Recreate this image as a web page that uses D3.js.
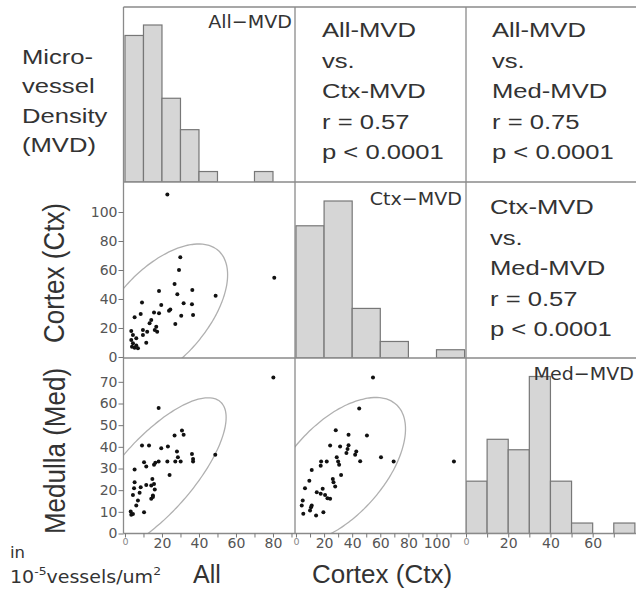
<!DOCTYPE html>
<html>
<head>
<meta charset="utf-8">
<script src="https://cdn.jsdelivr.net/npm/d3@7"></script>
<style>
  body { margin: 0; background: #fff; }
</style>
</head>
<body>
<svg id="chart" width="636" height="590"></svg>
<script>
// histogram bins (lower edges + last upper edge) and counts
var allBins = [0, 10, 20, 30, 40, 50, 60, 70, 80];
var allCounts = [14, 15, 8, 5, 1, 0, 0, 1];
var ctxBins = [0, 20, 40, 60, 80, 100, 120];
var ctxCounts = [16, 19, 6, 2, 0, 1];
var medBins = [0, 10, 20, 30, 40, 50, 60, 70, 80];
var medCounts = [5, 9, 8, 15, 5, 1, 0, 1];

// scatter points [x, y]
var allCtx = [[22.9,112],[29.9,68.8],[29.2,60],[26.8,50.3],[18.4,45.5],[28.3,43.2],[36.4,46.2],[49,42.3],
  [9.2,37.5],[19.6,35.9],[31.7,37],[36.2,36.3],[23.8,31.9],[24.5,32.8],[8.5,29.7],[5.2,27.4],[15.7,30.6],
  [18.4,30.1],[30.4,28.5],[36.8,29],[14.2,25.5],[13.3,23.2],[27.2,22.8],[16.9,20.9],[16.1,18.6],[9.7,18.6],
  [12,17.4],[17.4,17.4],[3.4,17.9],[4.3,15.2],[3.4,11.7],[6.1,12.9],[9.7,15.2],[11.5,9.9],[4.3,9.4],
  [5.2,6.4],[3.8,7.1],[7,6],[6.1,8],[80.7,54.7]];
var allMed = [[18.2,57.9],[30.8,47.5],[26.8,45.2],[31.7,45.6],[9.2,40.6],[13,40.6],[23.2,40.1],[19.6,39.3],
  [28.1,37.8],[36.2,36.7],[36.8,34.4],[48.8,36.4],[28.6,35.2],[30.1,33.2],[27.2,33.2],[22.9,33.2],[18.2,33.2],
  [16.4,32.6],[15.7,31.7],[36.8,33.2],[10.3,32.9],[11.5,30.9],[5.2,29.5],[24.1,27],[14.8,25.2],[5.2,23.7],
  [11.5,22.4],[14.2,22.2],[4.9,20.9],[8.5,21.3],[16.1,20.3],[15.7,22.9],[4.3,17.8],[7.9,18.8],[15.1,17.5],
  [14.2,16],[15.1,16.8],[7,15.2],[6.1,12.9],[10.3,9.8],[3.1,10.1],[3.4,8.6],[4.3,9],[80.2,72]];
var ctxMed = [[54.8,72],[45,57.7],[28.3,47.6],[37.4,45.6],[50.5,45.2],[24.3,40.6],[31.4,40.1],[37.4,40.7],
  [36.7,39],[42.9,37.8],[35.9,37.1],[42.1,36.3],[60.5,35.2],[69.5,33.2],[112.4,33.2],[45.7,33.3],[21.9,33.2],
  [17.9,33.2],[17.6,31.3],[29,35.2],[30,33.2],[30.7,31.7],[11.2,29.3],[32.1,27],[26.2,25.2],[26.7,23.7],
  [27.9,21.7],[9.5,24.4],[6.4,20.9],[19,20.6],[14.8,19],[17.6,18.3],[20.7,17.8],[22.4,16.3],[24.3,16],
  [4.8,15.2],[4.1,12.9],[11.2,12.9],[10,10.6],[5.2,9.1],[14.3,8.3],[19.5,9.8],[10.7,12.1]];

// 95% density ellipses per panel: All-Ctx, All-Med, Ctx-Med
var ellipseMeans = [[19, 28.5], [16, 26.4], [28.5, 29]];
var ellipseSds = [[14.9, 20.2], [15.8, 14.8], [20.2, 13.8]];
var ellipseR = [0.57, 0.75, 0.57];

// tick values
var allTicks = [0, 20, 40, 60, 80];
var allMinor = [10, 30, 50, 70, 90];
var ctxTicks = [0, 20, 40, 60, 80, 100];
var ctxMinor = [10, 30, 50, 70, 90, 110];
var medTicks = [0, 10, 20, 30, 40, 50, 60, 70];
var medXLabels = [0, 20, 40, 60];

// text
var leftTitle = ['Micro-', 'vessel', 'Density', '(MVD)'];
var corrText = [
  ['All-MVD', 'vs.', 'Ctx-MVD', 'r = 0.57', 'p < 0.0001'],
  ['All-MVD', 'vs.', 'Med-MVD', 'r = 0.75', 'p < 0.0001'],
  ['Ctx-MVD', 'vs.', 'Med-MVD', 'r = 0.57', 'p < 0.0001']
];
var diagLabels = ['All\u2212MVD', 'Ctx\u2212MVD', 'Med\u2212MVD'];

var colX = [123.5, 295, 466, 637];
var rowY = [7, 182, 358, 533.5];

var svg = d3.select('#chart');
var big = 'Liberation Sans, Arial, sans-serif';
var small = 'DejaVu Sans, Verdana, sans-serif';
var ink = '#333';
var lineCol = '#8a8a8a';

var xAll = d3.scaleLinear().domain([-0.8, 91.9]).range([colX[0], colX[1]]);
var xCtx = d3.scaleLinear().domain([-0.7, 121]).range([colX[1], colX[2]]);
var xMed = d3.scaleLinear().domain([0, 81]).range([colX[2], colX[3]]);
var yCtx = d3.scaleLinear().domain([-0.7, 120.7]).range([rowY[2], rowY[1]]);
var yMed = d3.scaleLinear().domain([0, 81]).range([rowY[3], rowY[2]]);

var defs = svg.append('defs');
function clip(id, c, r) {
  defs.append('clipPath').attr('id', id).append('rect')
    .attr('x', colX[c]).attr('y', rowY[r])
    .attr('width', colX[c + 1] - colX[c]).attr('height', rowY[r + 1] - rowY[r]);
  return 'url(#' + id + ')';
}

// histograms
function hist(bins, counts, x, c, r, id) {
  var bottom = rowY[r + 1];
  var y = d3.scaleLinear().domain([0, d3.max(counts)]).range([bottom, bottom - 157]);
  var data = counts.map(function(n, i) { return { x0: bins[i], x1: bins[i + 1], n: n }; })
    .filter(function(d) { return d.n > 0; });
  svg.append('g').attr('clip-path', clip(id, c, r))
    .selectAll('rect').data(data).enter().append('rect')
    .attr('x', function(d) { return x(d.x0); })
    .attr('width', function(d) { return x(d.x1) - x(d.x0); })
    .attr('y', function(d) { return y(d.n); })
    .attr('height', function(d) { return bottom - y(d.n); })
    .attr('fill', '#d6d6d6').attr('stroke', '#777').attr('stroke-width', 1.2);
}
hist(allBins, allCounts, xAll, 0, 0, 'c00');
hist(ctxBins, ctxCounts, xCtx, 1, 1, 'c11');
hist(medBins, medCounts, xMed, 2, 2, 'c22');

// scatter + ellipse
var chi = Math.sqrt(-2 * Math.log(0.05));
function scatter(points, x, y, k, c, row, id) {
  var g = svg.append('g').attr('clip-path', clip(id, c, row));
  var m = ellipseMeans[k], sd = ellipseSds[k], r = ellipseR[k];
  var s = Math.sqrt(1 - r * r);
  var ell = d3.range(0, 360, 3).map(function(a) {
    var t = a * Math.PI / 180;
    return [m[0] + chi * sd[0] * Math.cos(t),
            m[1] + chi * sd[1] * (r * Math.cos(t) + s * Math.sin(t))];
  });
  g.append('path')
    .attr('d', d3.line().x(function(d) { return x(d[0]); }).y(function(d) { return y(d[1]); })
      .curve(d3.curveCardinalClosed)(ell))
    .attr('fill', 'none').attr('stroke', '#b0b0b0').attr('stroke-width', 1.3);
  g.selectAll('circle').data(points).enter().append('circle')
    .attr('cx', function(d) { return x(d[0]); })
    .attr('cy', function(d) { return y(d[1]); })
    .attr('r', 2).attr('fill', '#111');
}
scatter(allCtx, xAll, yCtx, 0, 0, 1, 'c10');
scatter(allMed, xAll, yMed, 1, 0, 2, 'c20');
scatter(ctxMed, xCtx, yMed, 2, 1, 2, 'c21');

// grid lines
var grid = svg.append('g').attr('stroke', lineCol).attr('stroke-width', 1.3);
colX.slice(0, 3).forEach(function(x) {
  grid.append('line').attr('x1', x).attr('x2', x).attr('y1', rowY[0]).attr('y2', rowY[3]);
});
rowY.forEach(function(y) {
  grid.append('line').attr('x1', colX[0]).attr('x2', colX[3]).attr('y1', y).attr('y2', y);
});

// axes
function styleAxis(g, size) {
  g.select('.domain').remove();
  g.selectAll('line').attr('stroke', '#777');
  g.selectAll('text').attr('fill', '#555').style('font-family', small).style('font-size', size + 'px');
}
function bottomAxis(x, ticks, minor, labels) {
  var g = svg.append('g').attr('transform', 'translate(0,' + rowY[3] + ')');
  g.call(d3.axisBottom(x).tickValues(minor).tickSize(4).tickFormat(''));
  styleAxis(g, 14);
  var a = svg.append('g').attr('transform', 'translate(0,' + rowY[3] + ')')
    .call(d3.axisBottom(x).tickValues(ticks).tickSize(4).tickPadding(1)
      .tickFormat(function(d) { return labels.indexOf(d) >= 0 ? d : ''; }));
  styleAxis(a, 14);
  a.selectAll('text').filter(function(d) { return d === 0; }).style('font-size', '9.5px').attr('fill', '#888');
}
bottomAxis(xAll, allTicks, allMinor, allTicks);
bottomAxis(xCtx, ctxTicks, ctxMinor, ctxTicks);
bottomAxis(xMed, medTicks, [], medXLabels);

function leftAxis(y, ticks) {
  var a = svg.append('g').attr('transform', 'translate(' + colX[0] + ',0)')
    .call(d3.axisLeft(y).tickValues(ticks).tickSize(5).tickPadding(1));
  styleAxis(a, 14);
}
leftAxis(yCtx, ctxTicks);
leftAxis(yMed, medTicks);

// text helpers
function label(x, y, str, size, sx, family, anchor, rot) {
  return svg.append('text')
    .attr('transform', 'translate(' + x + ',' + y + ') scale(' + sx + ',1)' + (rot ? ' rotate(' + rot + ')' : ''))
    .attr('text-anchor', anchor || 'start')
    .style('font-family', family).style('font-size', size + 'px')
    .attr('fill', ink).text(str);
}

leftTitle.forEach(function(t, i) { label(22, 63.5 + i * 29.5, t, 21, 1.22, big); });

var corrPos = [[322, 37], [492, 37], [490, 214]];
corrText.forEach(function(lines, k) {
  lines.forEach(function(t, i) {
    label(corrPos[k][0], corrPos[k][1] + i * 30.5, t, 21, 1.22, big);
  });
});

var diagPos = [[292, 28], [462, 205], [634, 380]];
diagLabels.forEach(function(t, i) {
  label(diagPos[i][0], diagPos[i][1], t, 18, 1.06, small, 'end');
});

label(64, 273, 'Cortex (Ctx)', 26, 1.12, big, 'middle', -90);
label(65, 451, 'Medulla (Med)', 26, 1.12, big, 'middle', -90);
label(207, 583, 'All', 25, 1.0, big, 'middle');
label(382, 583, 'Cortex (Ctx)', 25, 1.04, big, 'middle');

label(10, 558, 'in', 15, 1.1, small);
var unit = label(10, 583, '', 17, 1.12, small);
unit.append('tspan').text('10');
unit.append('tspan').attr('dy', -8).style('font-size', '11px').text('-5');
unit.append('tspan').attr('dy', 8).text('vessels/um');
unit.append('tspan').attr('dy', -8).style('font-size', '11px').text('2');
</script>
</body>
</html>
